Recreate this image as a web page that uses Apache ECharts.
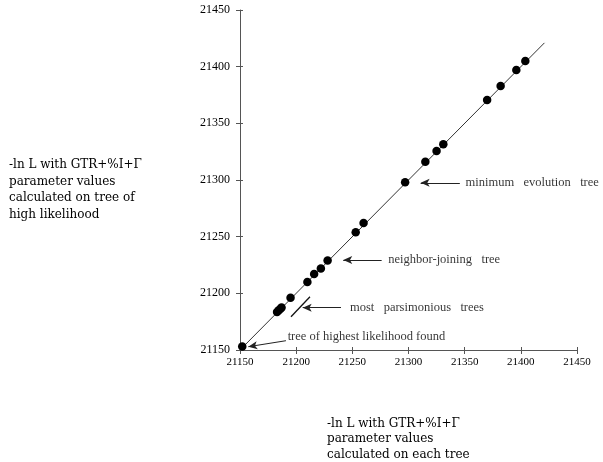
<!DOCTYPE html>
<html>
<head>
<meta charset="utf-8">
<script src="https://cdn.jsdelivr.net/npm/echarts@6/dist/echarts.min.js"></script>
<style>
  html, body { margin: 0; padding: 0; background: #fff; }
  #chart { width: 603px; height: 462px; }
</style>
</head>
<body>
<div id="chart"></div>
<script>
// ---- data ----
const axisMin = 21150;
const axisMax = 21450;
const axisStep = 50;

// trees: -lnL with parameters from each tree (x) vs. from tree of high likelihood (y)
const treeX = [21152, 21183, 21184.5, 21186, 21187, 21195, 21210, 21216, 21222, 21228, 21253, 21260, 21297, 21315, 21325, 21331, 21370, 21382, 21396, 21404];
const treeY = [21153, 21183.5, 21185, 21186.5, 21187.5, 21196, 21210, 21217, 21222, 21229, 21254, 21262, 21298, 21316, 21325.5, 21331.5, 21370.5, 21383, 21397, 21405];

// y = x reference line
const diagX = [21150, 21421];
const diagY = [21150, 21421];

// short segment marking the most parsimonious trees
const parsX = [21195.4, 21212.3];
const parsY = [21179.4, 21197.0];

// annotations: text, arrow tail, arrow head, text anchor (data coords)
const annLabels = ['tree of highest likelihood found', 'most   parsimonious   trees', 'neighbor-joining   tree', 'minimum   evolution   tree'];
const annTail = [[21190.9, 21158.2], [21239.9, 21187.3], [21276.1, 21229.4], [21345.7, 21297.5]];
const annHead = [[21157.4, 21152.9], [21205.8, 21187.3], [21241.9, 21229.4], [21310.8, 21297.5]];
const annText = [[21192.4, 21161.4], [21247.9, 21187.3], [21282.0, 21229.4], [21350.8, 21297.5]];

const yTitle = ['-ln L with GTR+%I+\u0393', 'parameter values', 'calculated on tree of', 'high likelihood'];
const xTitle = ['-ln L with GTR+%I+\u0393', 'parameter values', 'calculated on each tree'];

// ---- chart ----
const serif = 'DejaVu Serif';
const chart = echarts.init(document.getElementById('chart'), null, { renderer: 'canvas' });

function axisPair(dim) {
  const base = {
    type: 'value', min: axisMin, max: axisMax, interval: axisStep,
    splitLine: { show: false },
    axisLine: { show: true, lineStyle: { color: '#555', width: 1 } },
  };
  const main = Object.assign({}, base, {
    axisTick: { show: true, length: 4, inside: false, lineStyle: { color: '#555' } },
    axisLabel: Object.assign(
      { fontFamily: 'Liberation Serif', color: '#000', formatter: v => String(v) },
      dim === 'x' ? { fontSize: 11, margin: 7 } : { fontSize: 12, margin: 10 }
    )
  });
  const inner = Object.assign({}, base, {
    axisLine: { show: false },
    axisTick: { show: true, length: 3, inside: true, lineStyle: { color: '#555' } },
    axisLabel: { show: false }
  });
  if (dim === 'x') { main.position = 'bottom'; inner.position = 'bottom'; }
  else { main.position = 'left'; inner.position = 'left'; }
  return [main, inner];
}

const arrowLines = annTail.map((t, i) => [
  { coord: t, symbol: 'none' },
  { coord: annHead[i], symbol: 'arrow', symbolSize: [6, 9] }
]);

chart.setOption({
  animation: false,
  backgroundColor: '#fff',
  grid: { left: 240, right: 26, top: 10, bottom: 112, containLabel: false },
  xAxis: axisPair('x'),
  yAxis: axisPair('y'),
  series: [
    {
      type: 'line', name: 'diag',
      data: diagX.map((x, i) => [x, diagY[i]]),
      showSymbol: false, symbol: 'none',
      lineStyle: { color: '#333', width: 1 },
      silent: true
    },
    {
      type: 'line', name: 'pars',
      data: parsX.map((x, i) => [x, parsY[i]]),
      showSymbol: false, symbol: 'none',
      lineStyle: { color: '#111', width: 1.3 },
      silent: true
    },
    {
      type: 'scatter', name: 'trees',
      data: treeX.map((x, i) => [x, treeY[i]]),
      symbol: 'circle', symbolSize: 8.5,
      itemStyle: { color: '#000', opacity: 1 },
      z: 5
    },
    {
      type: 'scatter', name: 'annotations',
      data: annText.map((p, i) => ({ value: p, name: annLabels[i] })),
      symbolSize: 0,
      label: {
        show: true, position: 'right', distance: 0,
        formatter: p => p.name,
        fontFamily: 'Liberation Serif', fontSize: 12.5, color: '#000',
        align: 'left', verticalAlign: 'middle'
      },
      labelLayout: { hideOverlap: false },
      markLine: {
        silent: true,
        symbol: ['none', 'arrow'],
        symbolSize: 8,
        precision: 4,
        lineStyle: { color: '#222', width: 1, type: 'solid' },
        label: { show: false },
        emphasis: { disabled: true },
        data: arrowLines
      }
    }
  ],
  graphic: [
    {
      type: 'text', left: 9, top: 157,
      style: { text: yTitle.join('\n'), fontFamily: serif, fontSize: 12, lineHeight: 16.5, fill: '#000' }
    },
    {
      type: 'text', left: 327, top: 416,
      style: { text: xTitle.join('\n'), fontFamily: serif, fontSize: 12, lineHeight: 15.5, fill: '#000' }
    }
  ]
});
</script>
</body>
</html>
